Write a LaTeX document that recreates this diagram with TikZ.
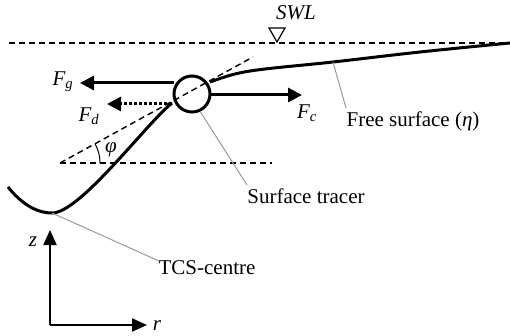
\documentclass[tikz,border=0pt]{standalone}
\usepackage{fontspec}
\setmainfont{Liberation Serif}
\usetikzlibrary{arrows.meta}
\begin{document}
\begin{tikzpicture}[x=1pt,y=-1pt,
  lbl/.style={inner sep=0pt,font=\fontsize{21}{25}\selectfont},
  ilbl/.style={inner sep=0pt,font=\fontsize{21}{25}\selectfont\itshape},
  dash line/.style={line width=1.4pt,dash pattern=on 6pt off 4pt},
  surf/.style={line width=3pt},
  force/.style={line width=3pt,-{Triangle[length=14pt,width=14pt]}},
  leader/.style={draw=gray!80,line width=1pt},
  axis/.style={line width=2pt,-{Triangle[length=15pt,width=13pt]}}]
\useasboundingbox (0,0) rectangle (510,336);
% SWL
\coordinate (swlL) at (9,43);
\coordinate (swlR) at (510,43);
\draw[dash line] (swlL) -- (swlR);
\draw[line width=1.2pt] (269,28) -- (285,28) -- (277,42) -- cycle;
\node[ilbl] (swl) at (296,13) {SWL};
% free surface curve
\coordinate (s0) at (8,187);
\coordinate (tcs) at (52,213);
\coordinate (s2) at (172,103);
\coordinate (s3) at (210,82);
\coordinate (fsp) at (333,62);
\draw[surf] (s0) .. controls (20,202) and (35,213) .. (tcs)
  .. controls (80,213) and (145,125) .. (s2);
\draw[surf] plot[smooth,tension=0.6] coordinates {(s3) (235,74) (265,69) (fsp) (420,52) (510,43)};
% horizontal & tangent dashed lines
\coordinate (pv) at (60,163);
\coordinate (hr) at (272,163);
\coordinate (tt) at (253,57);
\draw[dash line] (pv) -- (hr);
% tracer
\node[circle,draw,line width=3pt,fill=white,minimum size=36pt,inner sep=0pt] (tracer) at (192,94) {};
\draw[dash line] (pv) -- (tt);
\draw[line width=1pt] ([shift={(0:40)}]pv) arc[start angle=0,end angle=-29,radius=40];
\node[ilbl] (phi) at (111,150) {φ};
% forces
\draw[force] (tracer.west |- 0,83) ++(1,0) coordinate (fgs) -- (80,83) coordinate (fge);
\node[ilbl] (fg) at (63,82) {F\textsubscript{g}};
\draw[line width=3pt,dotted] (172,104) coordinate (fds) -- (120,104);
\draw[-{Triangle[length=14pt,width=14pt]},line width=3pt] (121,104) -- (107,104) coordinate (fde);
\node[ilbl] (fd) at (89,116) {F\textsubscript{d}};
\draw[force] (tracer.east |- 0,95) ++(-1,0) -- (302,95) coordinate (fce);
\node[ilbl] (fc) at (307,113) {F\textsubscript{c}};
% labels with leaders
\node[lbl] (fslab) at (413,121) {Free surface ({\itshape η})};
\draw[leader] (fsp) -- (346,108);
\node[lbl] (trlab) at (306,196) {Surface tracer};
\draw[leader] (tracer.-65) -- (247,185);
\node[lbl] (tcslab) at (207,268) {TCS-centre};
\draw[leader] (tcs) -- (tcslab.north west);
% axes
\coordinate (o) at (50,325);
\coordinate (zt) at (50,230);
\coordinate (rt) at (147,325);
\draw[axis] (o) -- (zt);
\draw[axis] (o) -- (rt);
\node[ilbl] (zl) at (33,242) {z};
\node[ilbl] (rl) at (157,326) {r};
\end{tikzpicture}
\end{document}
